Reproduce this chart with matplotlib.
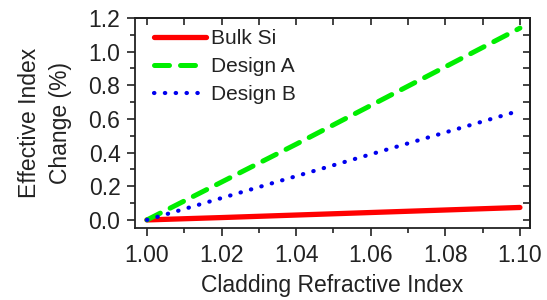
import matplotlib
matplotlib.use("Agg")
import matplotlib.pyplot as plt
from matplotlib.ticker import MultipleLocator, FormatStrFormatter

plt.rcParams['font.family'] = ['Liberation Sans', 'DejaVu Sans']

x = [1.00, 1.02, 1.04, 1.06, 1.08, 1.10]
bulk_si = [0.0, 0.014, 0.029, 0.044, 0.059, 0.074]
design_a = [0.0, 0.225, 0.45, 0.68, 0.91, 1.14]
design_b = [0.0, 0.13, 0.26, 0.39, 0.52, 0.65]

fig = plt.figure(figsize=(5.47, 3.0), dpi=100)
ax = fig.add_axes([135/547, 1-228/300, (530-135)/547, (228-18)/300])

ax.plot(x, bulk_si, color='#ff0000', lw=3.8, solid_capstyle='round', label='Bulk Si')
ax.plot(x, design_a, color='#00ee00', lw=3.6, dashes=(3.0, 2.2), dash_capstyle='round', label='Design A')
ax.plot(x, design_b, color='#0000ee', lw=3.0, linestyle=(0, (0.1, 2.5)), dash_capstyle='round', label='Design B')

ax.set_xlim(0.9968, 1.1027)
ax.set_ylim(-0.048, 1.2)
ax.xaxis.set_major_locator(MultipleLocator(0.02))
ax.xaxis.set_minor_locator(MultipleLocator(0.01))
ax.yaxis.set_major_locator(MultipleLocator(0.2))
ax.yaxis.set_minor_locator(MultipleLocator(0.1))
ax.xaxis.set_major_formatter(FormatStrFormatter('%.2f'))
ax.yaxis.set_major_formatter(FormatStrFormatter('%.1f'))

ax.tick_params(which='major', direction='out', length=5.5, width=1.2, labelsize=16.5, color='#222222', labelcolor='#222222')
ax.tick_params(axis='x', which='major', pad=6)
ax.tick_params(axis='y', which='major', pad=5)
ax.tick_params(which='minor', direction='out', length=3.5, width=1.2, color='#222222')
for s in ax.spines.values():
    s.set_linewidth(1.3)
    s.set_color('#222222')

# mirrored inward ticks on top and right
axt = ax.secondary_xaxis('top')
axt.xaxis.set_major_locator(MultipleLocator(0.02))
axt.xaxis.set_minor_locator(MultipleLocator(0.01))
axt.tick_params(which='both', direction='in', length=5, width=1.2, labeltop=False, color='#222222')
axr = ax.secondary_yaxis('right')
axr.yaxis.set_major_locator(MultipleLocator(0.2))
axr.yaxis.set_minor_locator(MultipleLocator(0.1))
axr.tick_params(which='both', direction='in', length=5, width=1.2, labelright=False, color='#222222')
axt.spines['top'].set_linewidth(1.3)
axr.spines['right'].set_linewidth(1.3)

ax.set_xlabel('Cladding Refractive Index', fontsize=16.5, color='#222222', labelpad=5)
ax.set_ylabel('Effective Index\nChange (%)', fontsize=16.5, color='#222222', labelpad=12, linespacing=1.45)

leg = ax.legend(loc='upper left', frameon=False, fontsize=15, handlelength=2.5,
                handletextpad=0.2, labelspacing=0.42, borderaxespad=0.0, bbox_to_anchor=(0.028, 0.985))
for t in leg.get_texts():
    t.set_color('#222222')

fig.savefig('out.png', dpi=100)
